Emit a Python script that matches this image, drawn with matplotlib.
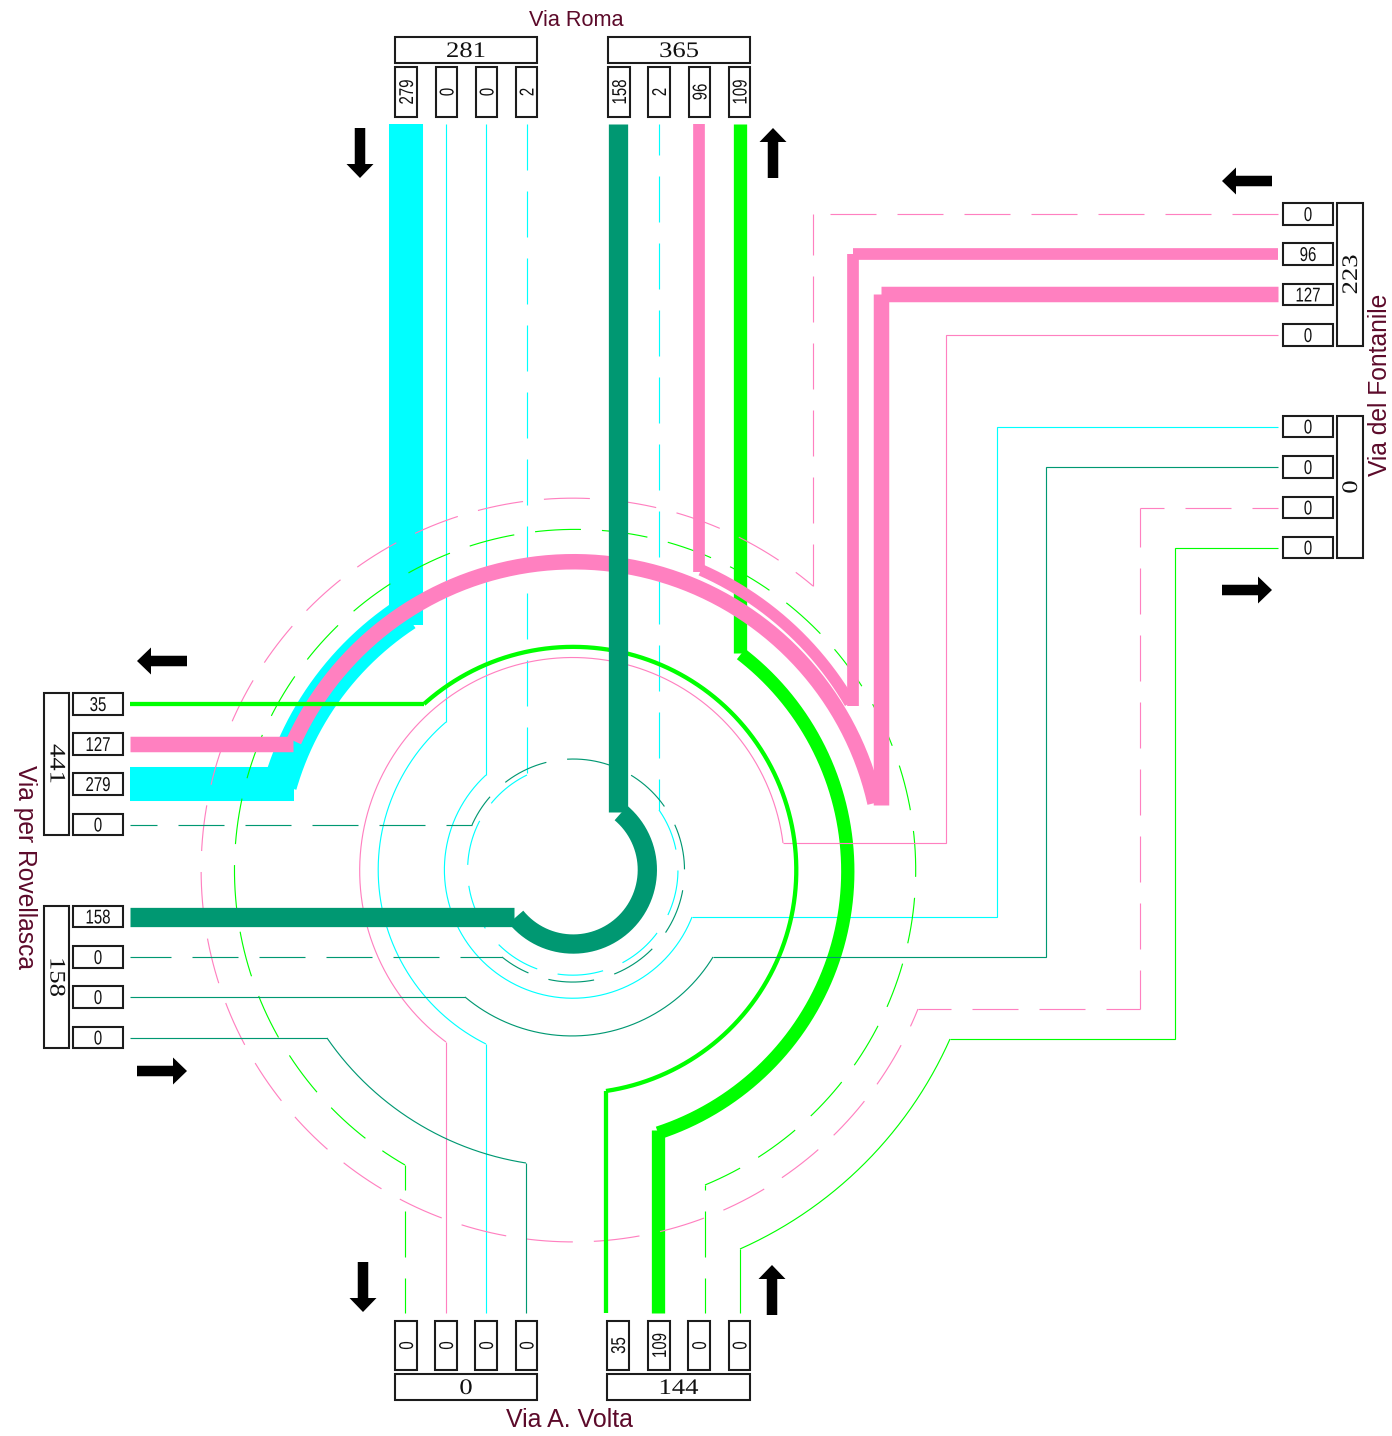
import math
import numpy as np
import matplotlib
matplotlib.use('Agg')
import matplotlib.pyplot as plt
from matplotlib.patches import Rectangle, FancyArrow
from matplotlib.patheffects import AbstractPathEffect
from matplotlib.transforms import Affine2D

plt.rcParams['lines.scale_dashes'] = False

# lane counts, in the order the lanes sit on each arm
roma_out = [279, 0, 0, 2]
roma_in = [158, 2, 96, 109]
fontanile_in = [0, 96, 127, 0]
fontanile_out = [0, 0, 0, 0]
rovellasca_in = [35, 127, 279, 0]
rovellasca_out = [158, 0, 0, 0]
volta_out = [0, 0, 0, 0]
volta_in = [35, 109, 0, 0]

CYAN = '#00ffff'
TEAL = '#009872'
PINK = '#ff80c0'
GREEN = '#00ff00'
MAROON = '#5c0a2a'
CENTER = (573, 870)
PX_PER_UNIT = 0.122
THIN_PX = 1.15


class Squeeze(AbstractPathEffect):
    # narrows or widens a text around its own centre, the fonts here have no condensed cut
    def __init__(self, cx, cy, sx, sy):
        super().__init__()
        self.t = Affine2D().translate(-cx, -cy).scale(sx, sy).translate(cx, cy)

    def draw_path(self, renderer, gc, tpath, affine, rgbFace=None):
        renderer.draw_path(gc, tpath, affine + self.t, rgbFace)


def arc_points(start, end, sweep, center):
    cx, cy = center
    a0 = math.atan2(start[1] - cy, start[0] - cx)
    a1 = math.atan2(end[1] - cy, end[0] - cx)
    if sweep > 0 and a1 < a0:
        a1 += 2 * math.pi
    if sweep < 0 and a1 > a0:
        a1 -= 2 * math.pi
    r0 = math.hypot(start[0] - cx, start[1] - cy)
    r1 = math.hypot(end[0] - cx, end[1] - cy)
    t = np.linspace(0, 1, 240)
    ang = a0 + (a1 - a0) * t
    rad = r0 + (r1 - r0) * t
    return list(zip(cx + rad * np.cos(ang), cy + rad * np.sin(ang)))


def segments(points):
    return [[points[i], points[i + 1]] for i in range(len(points) - 1)]


def draw_flow(ax, color, count, lead_in, a_start, a_end, lead_out, sweep=-1, center=CENTER):
    arc = arc_points(a_start, a_end, sweep, center)
    w_px = max(THIN_PX, count * PX_PER_UNIT)
    pieces = [lead_in, arc, lead_out]
    if w_px > 2:
        pieces = segments(lead_in) + [arc] + segments(lead_out)
    for piece in pieces:
        xs, ys = zip(*piece)
        ax.plot(xs, ys, color=color, lw=w_px * 0.72, solid_capstyle='butt', solid_joinstyle='miter')


def draw_uturn(ax, color, lead_in, a_start, a_end, lead_out, phases, center=CENTER):
    # every straight and the arc start their dash pattern on their own
    pieces = segments(lead_in) + [arc_points(a_start, a_end, -1, center)] + segments(lead_out)
    for piece, phase in zip(pieces, phases):
        xs, ys = zip(*piece)
        ax.plot(xs, ys, color=color, lw=THIN_PX * 0.72, dash_capstyle='butt', dash_joinstyle='miter',
                linestyle=(phase * 0.72, (46 * 0.72, 21 * 0.72)))


def box(ax, x0, y0, x1, y1, label, rot=0, big=False):
    ax.add_patch(Rectangle((x0, y0), x1 - x0, y1 - y0, fc='white', ec='#1c1c1c', lw=1.5, zorder=5))
    tx, ty = (x0 + x1) / 2, (y0 + y1) / 2
    shift = 2.5 if big else 1.5
    if rot == 0:
        ty += shift
    elif rot > 0:
        tx += shift
    else:
        tx -= 1.5
    along = 1.2 if big else 0.75
    sx, sy = (along, 1) if rot == 0 else (1, along)
    cx, cy = ax.transData.transform((tx, ty))
    ax.text(tx, ty, str(label), rotation=rot, ha='center', va='center',
            family='Liberation Serif' if big else 'Liberation Sans',
            fontsize=16 if big else 14.4, color='#111111', zorder=6,
            path_effects=[Squeeze(cx, cy, sx, sy)])


def arrow(ax, x0, y0, x1, y1):
    ax.add_patch(FancyArrow(x0, y0, x1 - x0, y1 - y0, width=10.5, head_width=27, head_length=14,
                            length_includes_head=True, fc='black', ec='black', lw=0, zorder=4))


fig = plt.figure(figsize=(13.92, 14.36), dpi=100)
ax = fig.add_axes([0, 0, 1, 1])
ax.set_xlim(0, 1392)
ax.set_ylim(1436, 0)
ax.axis('off')

# from Via Roma
draw_flow(ax, CYAN, roma_out[0], [(406, 124), (406, 625)], (406, 614), (280, 785), [(294, 784), (130, 784)])
draw_flow(ax, CYAN, roma_out[1], [(446, 124), (446, 722)], (446, 722), (486, 1044), [(486, 1044), (486, 1313)])
draw_flow(ax, CYAN, roma_out[2], [(486, 124), (486, 775)], (486, 775), (692, 917),
          [(692, 917), (997, 917), (997, 427), (1278, 427)])
draw_uturn(ax, CYAN, [(527, 124), (527, 775)], (527, 775), (659, 810), [(659, 810), (659, 124)], [0, 0, 15])

# from Via A. Volta
draw_flow(ax, GREEN, volta_in[3], [(740, 1313), (740, 1249)], (740, 1249), (950, 1039),
          [(950, 1039), (1175, 1039), (1175, 548), (1278, 548)])
draw_uturn(ax, GREEN, [(705, 1313), (705, 1185)], (705, 1185), (405, 1165), [(405, 1165), (405, 1313)],
           [11, 7, 21], center=(575, 870))
draw_flow(ax, GREEN, volta_in[1], [(658, 1313), (658, 1130)], (658, 1133), (741, 654), [(740, 653), (740, 124)])

# from Via del Fontanile
draw_uturn(ax, PINK, [(1278, 214), (813, 214), (813, 586)], (813, 586), (918, 1009),
           [(918, 1009), (1140, 1009), (1140, 508), (1278, 508)], [0, 5, 24, 13, 7, 22])
draw_flow(ax, PINK, fontanile_in[3], [(1278, 335), (946, 335), (946, 843), (783, 843)], (783, 843), (446, 1042),
          [(446, 1042), (446, 1313)])
draw_flow(ax, PINK, fontanile_in[1], [(1278, 254), (853, 254), (853, 706)], (850, 703), (701, 570),
          [(699, 572), (699, 124)])
draw_flow(ax, PINK, fontanile_in[2], [(1278, 294), (881, 294), (881, 805)], (875, 803), (294, 741),
          [(293, 744), (130, 744)])

draw_flow(ax, GREEN, volta_in[0], [(606, 1313), (606, 1091)], (606, 1091), (424, 704), [(424, 704), (130, 704)])

# from Via per Rovellasca
draw_uturn(ax, TEAL, [(130, 957), (502, 957)], (502, 957), (472, 825), [(472, 825), (130, 825)], [5, 15, 20])
draw_flow(ax, TEAL, rovellasca_out[2], [(130, 997), (465, 997)], (465, 997), (713, 957),
          [(713, 957), (1046, 957), (1046, 467), (1278, 467)])
draw_flow(ax, TEAL, rovellasca_out[3], [(130, 1038), (327, 1038)], (327, 1038), (526, 1163),
          [(526, 1163), (526, 1313)])
draw_flow(ax, TEAL, rovellasca_out[0], [(130, 917), (514, 917)], (516, 917), (621, 813),
          [(618, 812), (618, 124)])

# count boxes
top_x = [(395, 417), (436, 457), (476, 497), (516, 537), (608, 630), (648, 670), (689, 710), (729, 750)]
side_y = [(693, 715), (733, 755), (773, 795), (814, 835), (906, 927), (946, 968), (986, 1008), (1027, 1048)]
right_y = [(203, 225), (243, 265), (284, 305), (324, 346), (416, 437), (456, 478), (497, 518), (537, 558)]
bottom_x = [(395, 417), (435, 457), (475, 497), (516, 537), (607, 629), (648, 670), (688, 710), (729, 750)]

for (x0, x1), v in zip(top_x, roma_out + roma_in):
    box(ax, x0, 67, x1, 117, v, rot=90)
for (x0, x1), v in zip(bottom_x, volta_out + volta_in):
    box(ax, x0, 1321, x1, 1370, v, rot=90)
for (y0, y1), v in zip(side_y, rovellasca_in + rovellasca_out):
    box(ax, 73, y0, 123, y1, v)
for (y0, y1), v in zip(right_y, fontanile_in + fontanile_out):
    box(ax, 1283, y0, 1333, y1, v)

box(ax, 395, 37, 537, 63, sum(roma_out), big=True)
box(ax, 608, 37, 750, 63, sum(roma_in), big=True)
box(ax, 395, 1374, 537, 1400, sum(volta_out), big=True)
box(ax, 607, 1374, 750, 1400, sum(volta_in), big=True)
box(ax, 44, 693, 69, 835, sum(rovellasca_in), rot=-90, big=True)
box(ax, 44, 906, 69, 1048, sum(rovellasca_out), rot=-90, big=True)
box(ax, 1337, 203, 1363, 346, sum(fontanile_in), rot=90, big=True)
box(ax, 1337, 416, 1363, 558, sum(fontanile_out), rot=90, big=True)

# direction arrows
arrow(ax, 360, 128, 360, 178)
arrow(ax, 773, 178, 773, 128)
arrow(ax, 1272, 181, 1222, 181)
arrow(ax, 1222, 590, 1272, 590)
arrow(ax, 187, 661, 137, 661)
arrow(ax, 137, 1071, 187, 1071)
arrow(ax, 363, 1262, 363, 1312)
arrow(ax, 772, 1315, 772, 1265)

# street names
ax.text(576, 20, 'Via Roma', ha='center', va='center', family='Liberation Sans', fontsize=15.6, color=MAROON)
ax.text(569, 1420, 'Via A. Volta', ha='center', va='center', family='Liberation Sans', fontsize=18, color=MAROON)
ax.text(1380, 385, 'Via del Fontanile', rotation=90, ha='center', va='center', family='Liberation Sans',
        fontsize=17.7, color=MAROON)
ax.text(25, 867, 'Via per Rovellasca', rotation=-90, ha='center', va='center', family='Liberation Sans',
        fontsize=17.7, color=MAROON)

fig.savefig('out.png', dpi=100)
